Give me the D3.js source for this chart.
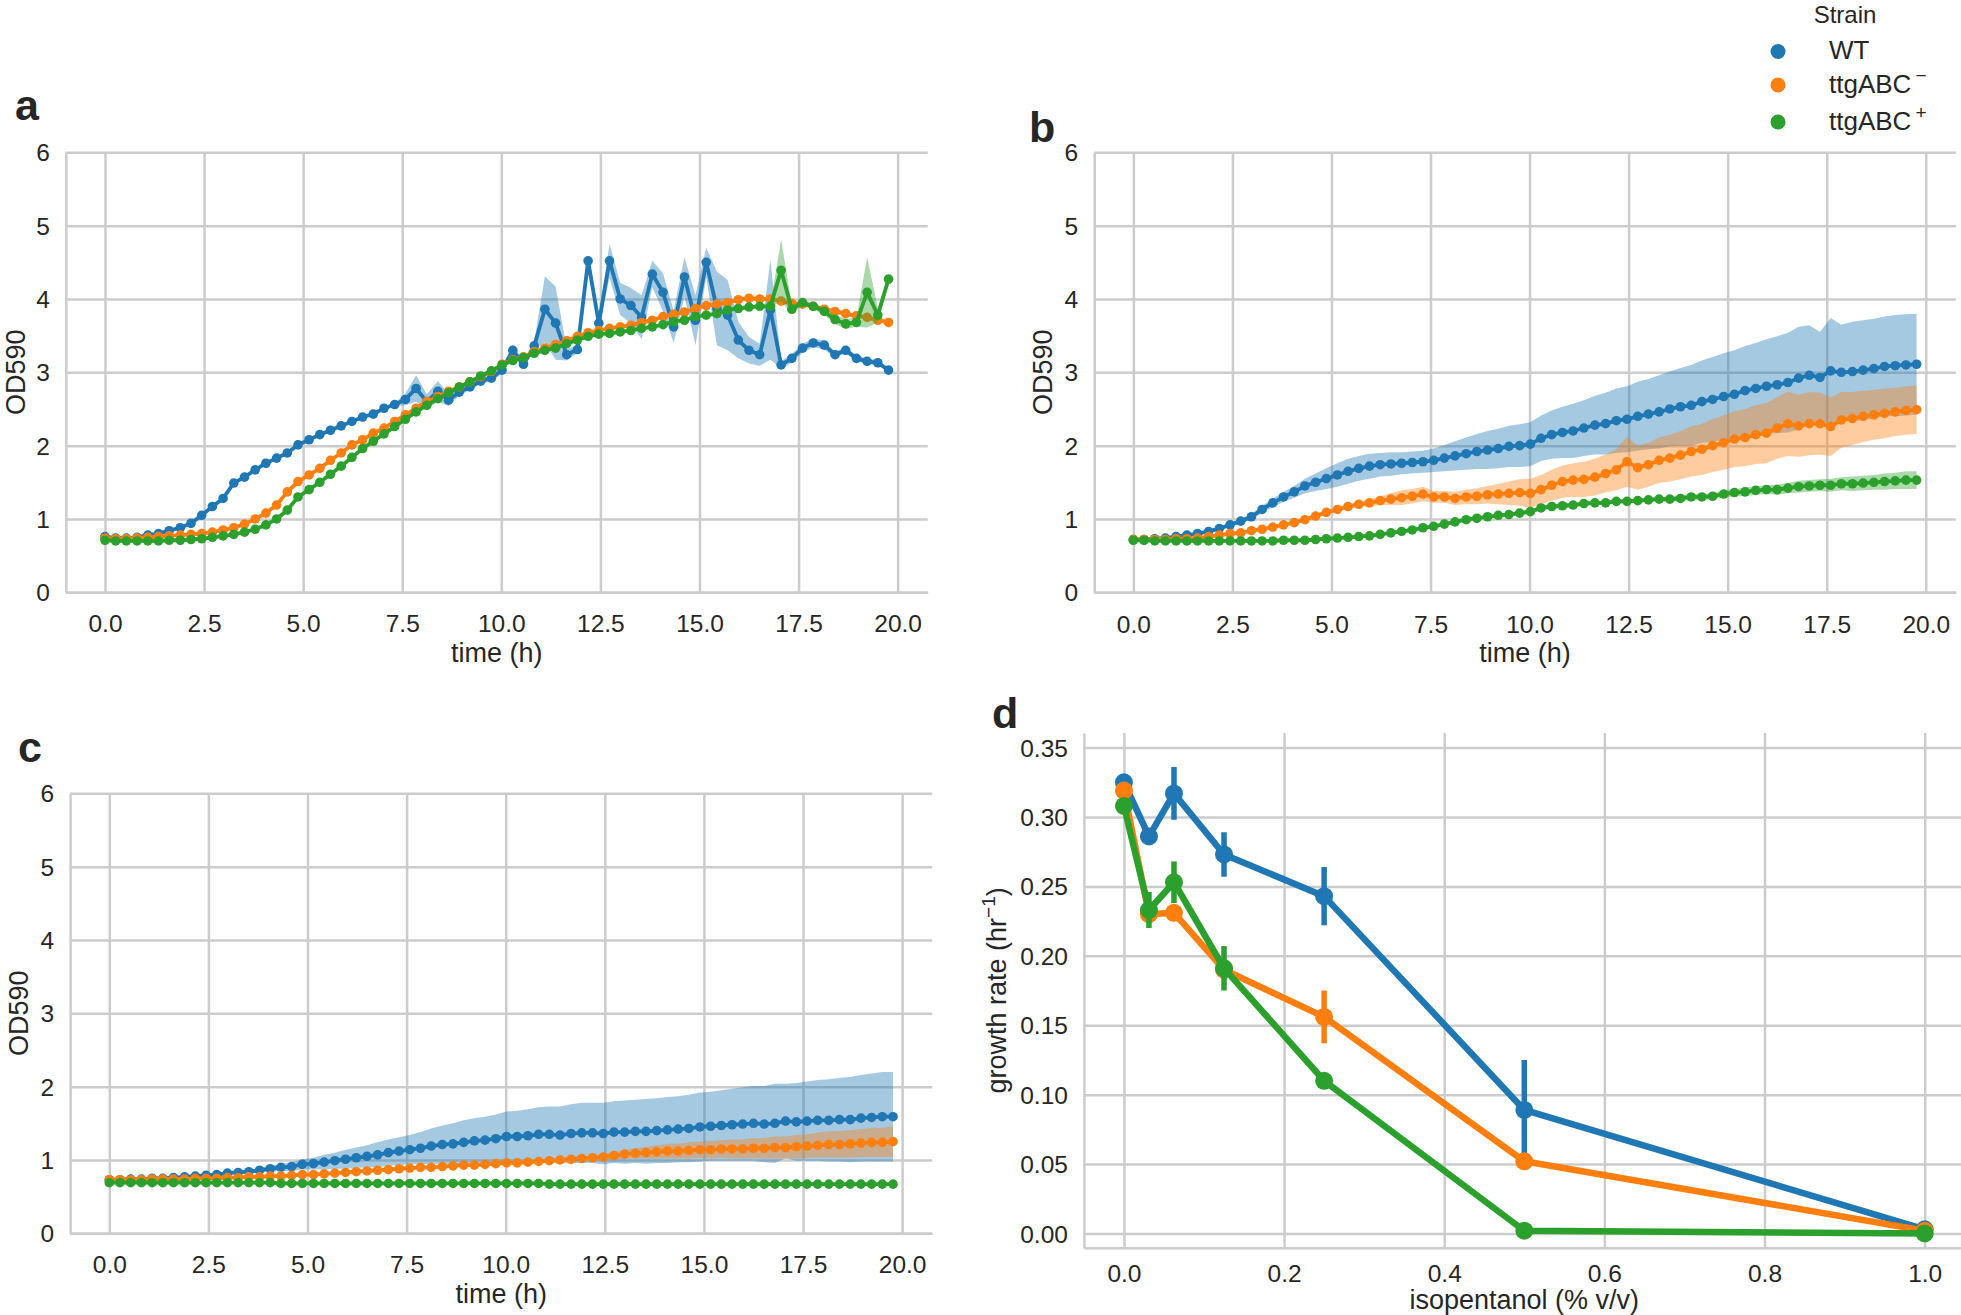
<!DOCTYPE html>
<html><head><meta charset="utf-8">
<script src="https://cdn.jsdelivr.net/npm/d3@7"></script>
<style>
body{margin:0;background:#fff;}
svg{display:block;}
text{font-family:"Liberation Sans",Arial,sans-serif;fill:#262626;}
</style></head><body>
<svg id="chart" width="1961" height="1315"></svg>
<script>
// ---------- DATA ----------
const strains = ["WT", "ttgABC-", "ttgABC+"];
const xTicks = [0, 2.5, 5, 7.5, 10, 12.5, 15, 17.5, 20];
const yTicks = [0, 1, 2, 3, 4, 5, 6];
const times = [0.00,0.27,0.54,0.81,1.08,1.35,1.62,1.90,2.17,2.44,
 2.71,2.98,3.25,3.52,3.79,4.06,4.33,4.60,4.87,5.15,
 5.42,5.69,5.96,6.23,6.50,6.77,7.04,7.31,7.58,7.85,
 8.12,8.40,8.67,8.94,9.21,9.48,9.75,10.02,10.29,10.56,
 10.83,11.10,11.37,11.65,11.92,12.19,12.46,12.73,13.00,13.27,
 13.54,13.81,14.08,14.35,14.62,14.90,15.17,15.44,15.71,15.98,
 16.25,16.52,16.79,17.06,17.33,17.60,17.87,18.15,18.42,18.69,
 18.96,19.23,19.50,19.77];

// panel a
const aWT = [0.76,0.74,0.74,0.75,0.78,0.80,0.84,0.88,0.94,1.05,
 1.17,1.28,1.49,1.57,1.67,1.76,1.83,1.90,2.01,2.08,
 2.15,2.21,2.27,2.33,2.39,2.43,2.51,2.56,2.63,2.78,
 2.60,2.74,2.62,2.73,2.80,2.88,2.92,3.03,3.30,3.11,
 3.36,3.86,3.67,3.24,3.31,4.52,3.67,4.52,4.00,3.91,
 3.75,4.34,4.09,3.62,4.30,3.71,4.50,3.87,3.78,3.44,
 3.30,3.24,3.85,3.10,3.19,3.33,3.40,3.37,3.24,3.30,
 3.19,3.15,3.13,3.03];
const aWTci = [0.02,0.02,0.02,0.02,0.02,0.02,0.02,0.02,0.02,0.02,
 0.02,0.02,0.02,0.02,0.02,0.02,0.02,0.02,0.02,0.02,
 0.02,0.02,0.02,0.02,0.02,0.02,0.02,0.02,0.08,0.18,
 0.10,0.14,0.08,0.05,0.04,0.04,0.04,0.05,0.08,0.05,
 0.06,0.45,0.50,0.08,0.05,0.06,0.08,0.23,0.22,0.24,
 0.30,0.18,0.26,0.22,0.27,0.34,0.20,0.50,0.48,0.25,
 0.18,0.15,0.68,0.05,0.06,0.06,0.06,0.06,0.04,0.04,
 0.04,0.04,0.03,0.03];
const aMinus = [0.74,0.73,0.73,0.74,0.75,0.76,0.77,0.78,0.79,0.80,
 0.82,0.85,0.88,0.93,1.00,1.08,1.19,1.37,1.51,1.60,
 1.69,1.80,1.90,2.01,2.08,2.17,2.24,2.33,2.42,2.51,
 2.60,2.67,2.74,2.80,2.87,2.94,3.01,3.11,3.17,3.21,
 3.28,3.33,3.38,3.43,3.49,3.54,3.57,3.60,3.62,3.64,
 3.68,3.71,3.76,3.79,3.82,3.87,3.91,3.93,3.95,3.99,
 4.01,4.00,4.00,3.97,3.94,3.93,3.90,3.86,3.83,3.80,
 3.77,3.75,3.71,3.68];
const aMinusCi = [0.02,0.02,0.02,0.02,0.02,0.02,0.02,0.02,0.02,0.02,
 0.02,0.02,0.02,0.02,0.02,0.02,0.02,0.02,0.02,0.02,
 0.02,0.02,0.02,0.02,0.02,0.02,0.02,0.02,0.02,0.02,
 0.02,0.02,0.02,0.02,0.02,0.02,0.02,0.02,0.02,0.02,
 0.02,0.02,0.02,0.02,0.02,0.02,0.02,0.02,0.02,0.02,
 0.03,0.03,0.03,0.03,0.03,0.03,0.03,0.03,0.03,0.03,
 0.03,0.03,0.03,0.03,0.03,0.03,0.03,0.03,0.03,0.03,
 0.03,0.03,0.03,0.03];
const aPlus = [0.71,0.70,0.70,0.70,0.70,0.70,0.71,0.71,0.72,0.73,
 0.75,0.77,0.79,0.82,0.86,0.92,1.00,1.12,1.30,1.40,
 1.50,1.61,1.72,1.84,1.96,2.06,2.16,2.26,2.36,2.46,
 2.55,2.64,2.72,2.80,2.87,2.95,3.02,3.10,3.16,3.20,
 3.26,3.30,3.33,3.39,3.44,3.49,3.52,3.53,3.55,3.57,
 3.60,3.62,3.65,3.69,3.71,3.76,3.78,3.80,3.85,3.87,
 3.89,3.90,3.90,4.39,3.86,3.95,3.90,3.83,3.72,3.66,
 3.68,4.09,3.78,4.27];
const aPlusCi = [0.02,0.02,0.02,0.02,0.02,0.02,0.02,0.02,0.02,0.02,
 0.02,0.02,0.02,0.02,0.02,0.02,0.02,0.02,0.02,0.02,
 0.02,0.02,0.02,0.02,0.02,0.02,0.02,0.02,0.02,0.02,
 0.02,0.02,0.02,0.02,0.02,0.02,0.02,0.02,0.02,0.02,
 0.02,0.02,0.02,0.02,0.02,0.02,0.02,0.02,0.02,0.02,
 0.02,0.02,0.02,0.02,0.02,0.02,0.02,0.02,0.02,0.02,
 0.02,0.02,0.02,0.42,0.06,0.04,0.04,0.05,0.06,0.07,
 0.06,0.48,0.10,0.05];

// panel b
const bWT = [0.72,0.72,0.73,0.74,0.76,0.78,0.80,0.83,0.87,0.92,
 0.97,1.03,1.13,1.22,1.30,1.37,1.45,1.50,1.55,1.60,
 1.65,1.69,1.72,1.74,1.75,1.76,1.77,1.78,1.80,1.83,
 1.86,1.89,1.92,1.94,1.96,1.99,2.00,2.02,2.10,2.15,
 2.18,2.20,2.24,2.28,2.30,2.34,2.36,2.40,2.43,2.46,
 2.50,2.53,2.55,2.60,2.63,2.67,2.70,2.75,2.78,2.81,
 2.83,2.86,2.92,2.96,2.93,3.02,3.00,3.01,3.03,3.05,
 3.08,3.09,3.10,3.11];
const bWTci = [0.02,0.02,0.02,0.02,0.02,0.02,0.02,0.02,0.02,0.02,
 0.03,0.04,0.05,0.06,0.07,0.08,0.10,0.12,0.14,0.16,
 0.17,0.17,0.17,0.16,0.16,0.15,0.15,0.15,0.16,0.18,
 0.20,0.22,0.24,0.26,0.27,0.28,0.29,0.30,0.31,0.33,
 0.35,0.37,0.38,0.40,0.42,0.44,0.45,0.47,0.48,0.50,
 0.51,0.53,0.55,0.56,0.58,0.59,0.60,0.61,0.62,0.64,
 0.66,0.68,0.70,0.68,0.62,0.72,0.65,0.68,0.68,0.68,
 0.68,0.69,0.69,0.69];
const bMinus = [0.72,0.72,0.72,0.72,0.73,0.73,0.74,0.76,0.78,0.80,
 0.81,0.84,0.86,0.89,0.92,0.95,0.99,1.04,1.09,1.13,
 1.17,1.20,1.22,1.25,1.27,1.29,1.31,1.34,1.30,1.30,
 1.28,1.30,1.31,1.33,1.34,1.35,1.36,1.35,1.40,1.46,
 1.51,1.53,1.54,1.57,1.62,1.67,1.78,1.70,1.74,1.80,
 1.83,1.87,1.92,1.95,2.00,2.04,2.09,2.11,2.15,2.17,
 2.24,2.30,2.27,2.30,2.30,2.26,2.35,2.37,2.40,2.42,
 2.44,2.46,2.48,2.49];
const bMinusCi = [0.02,0.02,0.02,0.02,0.02,0.02,0.02,0.02,0.02,0.02,
 0.02,0.02,0.02,0.02,0.02,0.03,0.03,0.03,0.03,0.03,
 0.03,0.04,0.05,0.06,0.08,0.10,0.10,0.10,0.08,0.08,
 0.09,0.10,0.11,0.12,0.14,0.16,0.18,0.20,0.20,0.21,
 0.22,0.23,0.24,0.25,0.26,0.28,0.34,0.30,0.30,0.31,
 0.32,0.33,0.34,0.35,0.36,0.37,0.38,0.39,0.40,0.41,
 0.42,0.44,0.42,0.43,0.42,0.40,0.38,0.36,0.35,0.34,
 0.34,0.33,0.33,0.33];
const bPlus = [0.71,0.71,0.70,0.70,0.70,0.70,0.70,0.70,0.70,0.70,
 0.70,0.70,0.70,0.70,0.71,0.71,0.71,0.72,0.73,0.74,
 0.75,0.76,0.77,0.79,0.81,0.83,0.85,0.88,0.90,0.93,
 0.96,0.99,1.01,1.03,1.05,1.06,1.08,1.10,1.15,1.17,
 1.18,1.19,1.21,1.22,1.22,1.24,1.24,1.25,1.26,1.27,
 1.27,1.28,1.30,1.30,1.31,1.34,1.36,1.37,1.39,1.40,
 1.40,1.42,1.44,1.45,1.46,1.46,1.48,1.48,1.49,1.50,
 1.51,1.52,1.53,1.53];
const bPlusCi = [0.01,0.01,0.01,0.01,0.01,0.01,0.01,0.01,0.01,0.01,
 0.01,0.01,0.01,0.01,0.01,0.01,0.01,0.01,0.01,0.01,
 0.02,0.02,0.02,0.02,0.02,0.02,0.02,0.02,0.02,0.02,
 0.02,0.02,0.02,0.02,0.02,0.02,0.03,0.03,0.03,0.03,
 0.03,0.03,0.03,0.03,0.03,0.03,0.03,0.03,0.03,0.03,
 0.04,0.04,0.04,0.04,0.04,0.05,0.05,0.06,0.06,0.06,
 0.07,0.07,0.08,0.08,0.08,0.09,0.09,0.10,0.10,0.10,
 0.11,0.11,0.12,0.12];

// panel c
const cWT = [0.73,0.73,0.74,0.74,0.75,0.75,0.76,0.77,0.78,0.79,
 0.80,0.82,0.83,0.84,0.86,0.88,0.90,0.91,0.94,0.95,
 0.97,0.99,1.01,1.03,1.05,1.07,1.10,1.12,1.14,1.16,
 1.19,1.21,1.22,1.24,1.26,1.27,1.29,1.32,1.32,1.33,
 1.35,1.35,1.34,1.36,1.37,1.37,1.36,1.38,1.38,1.39,
 1.39,1.40,1.41,1.42,1.43,1.45,1.46,1.47,1.48,1.49,
 1.50,1.49,1.50,1.53,1.52,1.53,1.54,1.54,1.55,1.55,
 1.57,1.58,1.59,1.59];
const cWTci = [0.01,0.01,0.01,0.01,0.01,0.01,0.01,0.01,0.01,0.01,
 0.01,0.01,0.01,0.02,0.03,0.04,0.05,0.06,0.07,0.08,
 0.10,0.11,0.13,0.14,0.15,0.17,0.18,0.19,0.20,0.22,
 0.24,0.26,0.28,0.30,0.31,0.32,0.33,0.34,0.35,0.36,
 0.37,0.38,0.39,0.40,0.41,0.41,0.42,0.42,0.43,0.43,
 0.44,0.44,0.45,0.45,0.46,0.47,0.47,0.48,0.49,0.50,
 0.51,0.52,0.54,0.51,0.53,0.54,0.55,0.56,0.57,0.58,
 0.59,0.60,0.61,0.61];
const cMinus = [0.73,0.73,0.73,0.73,0.74,0.74,0.74,0.74,0.75,0.75,
 0.75,0.76,0.76,0.77,0.77,0.78,0.78,0.79,0.80,0.80,
 0.81,0.82,0.83,0.84,0.85,0.86,0.87,0.88,0.89,0.90,
 0.90,0.91,0.92,0.93,0.93,0.94,0.95,0.96,0.96,0.97,
 0.98,0.99,1.00,1.01,1.02,1.03,1.04,1.06,1.08,1.09,
 1.10,1.11,1.12,1.12,1.13,1.14,1.14,1.15,1.15,1.15,
 1.16,1.16,1.17,1.17,1.18,1.19,1.20,1.21,1.21,1.22,
 1.23,1.24,1.24,1.25];
const cMinusCi = [0.02,0.02,0.02,0.02,0.02,0.02,0.02,0.02,0.02,0.02,
 0.02,0.02,0.02,0.02,0.02,0.02,0.02,0.02,0.02,0.02,
 0.02,0.02,0.02,0.02,0.02,0.02,0.02,0.02,0.02,0.02,
 0.02,0.02,0.02,0.02,0.02,0.02,0.03,0.03,0.03,0.03,
 0.03,0.03,0.03,0.03,0.03,0.03,0.04,0.05,0.06,0.07,
 0.08,0.09,0.10,0.10,0.11,0.11,0.12,0.12,0.13,0.13,
 0.14,0.14,0.15,0.15,0.16,0.16,0.17,0.18,0.18,0.19,
 0.19,0.20,0.20,0.21];
const cPlus = [0.69,0.69,0.69,0.69,0.69,0.69,0.69,0.69,0.69,0.69,
 0.69,0.69,0.69,0.69,0.69,0.69,0.68,0.68,0.68,0.68,
 0.68,0.68,0.68,0.68,0.68,0.68,0.68,0.68,0.68,0.68,
 0.68,0.68,0.68,0.68,0.68,0.68,0.68,0.68,0.68,0.68,
 0.68,0.67,0.67,0.67,0.67,0.67,0.67,0.67,0.67,0.67,
 0.67,0.67,0.67,0.67,0.67,0.67,0.67,0.67,0.67,0.67,
 0.67,0.67,0.67,0.67,0.67,0.67,0.67,0.67,0.67,0.67,
 0.67,0.67,0.67,0.67];
const cPlusCi = [0.01,0.01,0.01,0.01,0.01,0.01,0.01,0.01,0.01,0.01,
 0.01,0.01,0.01,0.01,0.01,0.01,0.01,0.01,0.01,0.01,
 0.01,0.01,0.01,0.01,0.01,0.01,0.01,0.01,0.01,0.01,
 0.01,0.01,0.01,0.01,0.01,0.01,0.01,0.01,0.01,0.01,
 0.01,0.01,0.01,0.01,0.01,0.01,0.01,0.01,0.01,0.01,
 0.01,0.01,0.01,0.01,0.01,0.01,0.01,0.01,0.01,0.01,
 0.01,0.01,0.01,0.01,0.01,0.01,0.01,0.01,0.01,0.01,
 0.01,0.01,0.01,0.01];

// panel d
const conc = [0, 0.03125, 0.0625, 0.125, 0.25, 0.5, 1.0];
const dXTicks = [0, 0.2, 0.4, 0.6, 0.8, 1.0];
const dYTicks = [0, 0.05, 0.10, 0.15, 0.20, 0.25, 0.30, 0.35];
const dWT = [0.325, 0.286, 0.317, 0.273, 0.243, 0.089, 0.003];
const dWTerr = [0.003, 0.003, 0.019, 0.016, 0.021, 0.036, 0.001];
const dMinus = [0.319, 0.230, 0.231, 0.190, 0.156, 0.052, 0.002];
const dMinusErr = [0.003, 0.005, 0.004, 0.005, 0.019, 0.005, 0.001];
const dPlus = [0.308, 0.233, 0.253, 0.191, 0.110, 0.002, 0.000];
const dPlusErr = [0.003, 0.013, 0.015, 0.016, 0.003, 0.002, 0.001];

// ---------- STYLE ----------
const colors = ["#1f77b4", "#ff7f0e", "#2ca02c"];
const GRID = "#cccccc";
const TICK_FS = 24.5, LABEL_FS = 27;

const svg = d3.select("#chart");
svg.append("rect").attr("width", 1961).attr("height", 1315).attr("fill", "#fff");

function styleAxis(g) {
  g.select(".domain").attr("stroke", GRID).attr("stroke-width", 2.5);
  g.selectAll(".tick line").attr("stroke", GRID).attr("stroke-width", 2.5);
  g.selectAll(".tick text").attr("fill", "#262626").style("font-size", TICK_FS + "px")
    .style("font-family", '"Liberation Sans", Arial, sans-serif');
}

function drawAxes(cfg, x, y, xt, yt, xfmt, yfmt) {
  const g = svg.append("g");
  const gx = g.append("g").attr("transform", `translate(0,${cfg.bottom})`)
    .call(d3.axisBottom(x).tickValues(xt).tickFormat(xfmt)
      .tickSize(-(cfg.bottom - cfg.top)).tickSizeOuter(0));
  styleAxis(gx);
  gx.selectAll(".tick text").attr("y", cfg.xTickOff).attr("dy", 0);
  const gy = g.append("g").attr("transform", `translate(${cfg.left},0)`)
    .call(d3.axisLeft(y).tickValues(yt).tickFormat(yfmt)
      .tickSize(-(cfg.right - cfg.left)).tickSizeOuter(0));
  styleAxis(gy);
  gy.selectAll(".tick text").attr("x", -16).attr("dy", "0.35em");
  return g;
}

function label(x, y, txt, opts = {}) {
  const t = svg.append("text").attr("x", x).attr("y", y)
    .attr("text-anchor", opts.anchor || "middle")
    .style("font-size", (opts.size || LABEL_FS) + "px").text(txt);
  if (opts.rotate) t.attr("transform", `rotate(-90,${x},${y})`);
  if (opts.bold) t.style("font-weight", "bold").attr("fill", "#000");
  return t;
}

function timePanel(cfg, series) {
  const x = d3.scaleLinear().domain([-0.9885, 20.7585]).range([cfg.left, cfg.right]);
  const y = d3.scaleLinear().domain([0, 6]).range([cfg.bottom, cfg.top]);
  drawAxes(cfg, x, y, xTicks, yTicks, d3.format(".1f"), d3.format("d"));
  const g = svg.append("g");
  series.forEach((s, k) => {
    const area = d3.area()
      .x((d, i) => x(times[i]))
      .y0((d, i) => y(d - s.ci[i]))
      .y1((d, i) => y(d + s.ci[i]));
    g.append("path").datum(s.mean).attr("d", area)
      .attr("fill", colors[k]).attr("fill-opacity", 0.4).attr("stroke", "none");
    const line = d3.line().x((d, i) => x(times[i])).y(d => y(d));
    g.append("path").datum(s.mean).attr("d", line).attr("fill", "none")
      .attr("stroke", colors[k]).attr("stroke-width", 3.8).attr("stroke-linejoin", "round");
    g.selectAll(null).data(s.mean).enter().append("circle")
      .attr("cx", (d, i) => x(times[i])).attr("cy", d => y(d)).attr("r", 4.8)
      .attr("fill", colors[k]);
  });
  const cx = (cfg.left + cfg.right) / 2, cy = (cfg.top + cfg.bottom) / 2;
  label(cx, cfg.bottom + 70, "time (h)");
  label(cfg.yLabelX, cy, "OD590", { rotate: true });
  label(cfg.letter[0], cfg.letter[1], cfg.letter[2], { bold: true, size: 43, anchor: "start" });
}

timePanel({ left: 65.8, right: 927.7, top: 152.3, bottom: 592.3, xTickOff: 40, yLabelX: 25, letter: [15, 120, "a"] },
  [{ mean: aWT, ci: aWTci }, { mean: aMinus, ci: aMinusCi }, { mean: aPlus, ci: aPlusCi }]);
timePanel({ left: 1094.2, right: 1955.8, top: 152.3, bottom: 592.3, xTickOff: 40.5, yLabelX: 1052, letter: [1029, 142, "b"] },
  [{ mean: bWT, ci: bWTci }, { mean: bMinus, ci: bMinusCi }, { mean: bPlus, ci: bPlusCi }]);
timePanel({ left: 70.1, right: 932.2, top: 793.3, bottom: 1233.3, xTickOff: 40, yLabelX: 28, letter: [18, 762, "c"] },
  [{ mean: cWT, ci: cWTci }, { mean: cMinus, ci: cMinusCi }, { mean: cPlus, ci: cPlusCi }]);

// panel d
(function () {
  const cfg = { left: 1083.9, right: 1964.7, top: 733, bottom: 1247.8, xTickOff: 34.5 };
  const x = d3.scaleLinear().domain([-0.05, 1.05]).range([cfg.left, cfg.right]);
  const y = d3.scaleLinear().domain([-0.0103, 0.3605]).range([cfg.bottom, cfg.top]);
  drawAxes(cfg, x, y, dXTicks, dYTicks, d3.format(".1f"), d3.format(".2f"));
  const g = svg.append("g");
  const sets = [[dWT, dWTerr], [dMinus, dMinusErr], [dPlus, dPlusErr]];
  sets.forEach(([m, e], k) => {
    g.append("path").datum(m)
      .attr("d", d3.line().x((d, i) => x(conc[i])).y(d => y(d)))
      .attr("fill", "none").attr("stroke", colors[k]).attr("stroke-width", 6.5)
      .attr("stroke-linejoin", "round");
    g.selectAll(null).data(m).enter().append("circle")
      .attr("cx", (d, i) => x(conc[i])).attr("cy", d => y(d)).attr("r", 9)
      .attr("fill", colors[k]);
    g.selectAll(null).data(m).enter().append("line")
      .attr("x1", (d, i) => x(conc[i])).attr("x2", (d, i) => x(conc[i]))
      .attr("y1", (d, i) => y(d - e[i])).attr("y2", (d, i) => y(d + e[i]))
      .attr("stroke", colors[k]).attr("stroke-width", 5.5);
  });
  label((cfg.left + cfg.right) / 2, 1309, "isopentanol (% v/v)");
  const yl = label(1006, (cfg.top + cfg.bottom) / 2, "", { rotate: true });
  yl.append("tspan").text("growth rate (hr");
  yl.append("tspan").attr("dy", -11).style("font-size", "19px").text("\u22121");
  yl.append("tspan").attr("dy", 11).text(")");
  label(992, 728, "d", { bold: true, size: 43, anchor: "start" });
})();

// legend
(function () {
  const g = svg.append("g");
  g.append("text").attr("x", 1845).attr("y", 23).attr("text-anchor", "middle")
    .style("font-size", "24px").text("Strain");
  const ys = [51.5, 85, 122];
  const sup = [null, "\u2212", "+"];
  strains.forEach((s, k) => {
    g.append("circle").attr("cx", 1778).attr("cy", ys[k]).attr("r", 7.5).attr("fill", colors[k]);
    const t = g.append("text").attr("x", 1829).attr("y", ys[k] + 7.5).style("font-size", "26px");
    if (k === 0) t.text("WT");
    else {
      t.append("tspan").text("ttgABC");
      t.append("tspan").attr("dx", 4).attr("dy", -11).style("font-size", "19px").text(sup[k]);
    }
  });
})();
</script>
</body></html>
